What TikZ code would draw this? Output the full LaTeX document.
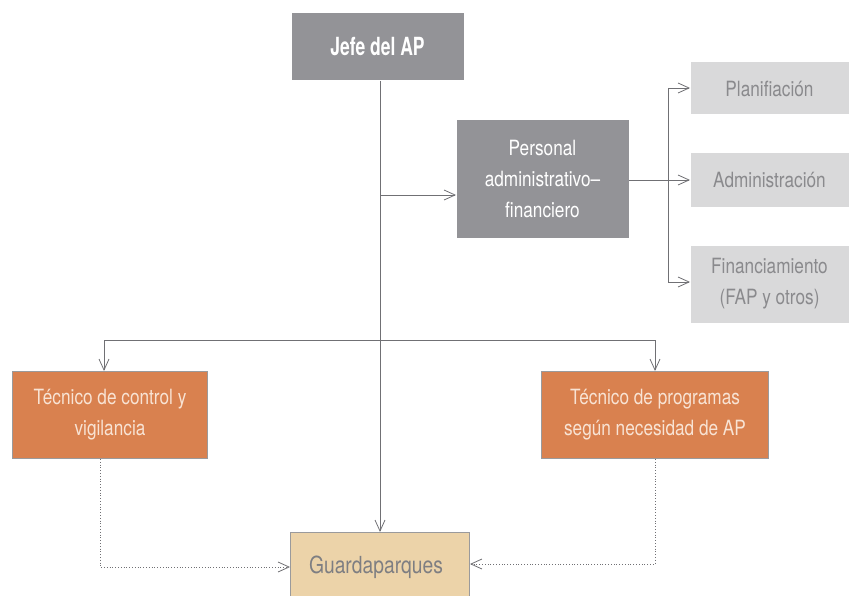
\documentclass[tikz,border=0pt]{standalone}
\usepackage{fontspec}
\setmainfont{TeX Gyre Heros}[FakeStretch=0.82]
\newfontfamily\boldcn{TeX Gyre Heros}[FakeStretch=0.70]
\usetikzlibrary{arrows.meta}
\definecolor{boxgray}{HTML}{939397}
\definecolor{lightbox}{HTML}{D9D9DA}
\definecolor{lighttext}{HTML}{8A8A8D}
\definecolor{orangebox}{HTML}{D9814F}
\definecolor{orangetext}{HTML}{F8E3D4}
\definecolor{sandbox}{HTML}{ECD3A9}
\definecolor{linegray}{HTML}{707074}
\definecolor{bordergray}{HTML}{9A9A9C}
\begin{document}
\begin{tikzpicture}[x=1pt,y=-1pt,
  box/.style={draw=bordergray,line width=1pt,inner sep=0pt,align=center,anchor=north west},
  txt/.style={font=\fontsize{21}{31}\selectfont},
  conn/.style={draw=linegray,line width=0.9pt,-{Straight Barb[length=11pt,width=10pt,line width=0.8pt]}},
  dotconn/.style={draw=linegray,line width=0.8pt,dotted,-{Straight Barb[length=11pt,width=10pt,line width=0.8pt]}},
  plain/.style={draw=linegray,line width=0.9pt}]
\useasboundingbox (0,0) rectangle (851,596);
% boxes
\node[box,fill=boxgray,draw=none,text=white,minimum width=172pt,minimum height=67pt,font=\boldcn\bfseries\fontsize{25}{28}\selectfont] (jefe) at (291,13) {Jefe del AP};
\node[box,fill=boxgray,draw=none,text=white,minimum width=172pt,minimum height=117pt,txt] (pers) at (456,120) {Personal\\administrativo–\\financiero};
\node[box,fill=lightbox,draw=none,text=lighttext,minimum width=158pt,minimum height=52pt,txt] (plan) at (690,62) {Planifiación};
\node[box,fill=lightbox,draw=none,text=lighttext,minimum width=158pt,minimum height=54pt,txt] (admin) at (690,153) {Administración};
\node[box,fill=lightbox,draw=none,text=lighttext,minimum width=158pt,minimum height=77pt,txt] (fin) at (690,245) {Financiamiento\\(FAP y otros)};
\node[box,fill=orangebox,text=orangetext,minimum width=195pt,minimum height=87pt,txt] (tcv) at (12,371) {Técnico de control y\\vigilancia};
\node[box,fill=orangebox,text=orangetext,minimum width=227pt,minimum height=87pt,txt] (tps) at (541,371) {Técnico de programas\\según necesidad de AP};
\node[box,fill=sandbox,minimum width=179pt,minimum height=70pt] (guar) at (290,532) {};
\node[text=linegray!90,font=\fontsize{23.5}{28}\selectfont] (guarlbl) at (376,567) {Guardaparques};
% coordinates
\coordinate (tr) at (380,195);
\coordinate (br) at (668,180);
\coordinate (lt) at (104,340);
\coordinate (rt) at (655,340);
\coordinate (ldot) at (100,567);
\coordinate (rdot) at (655,564);
% connectors
\draw[conn] (jefe.south -| tr) -- (guar.north -| tr);
\draw[conn] (tr) -- (tr -| pers.west);
\draw[plain] (br -| pers.east) -- (br);
\draw[plain] (668,88) -- (668,282);
\draw[conn] (668,88) -- (plan.west |- 0,88);
\draw[conn] (br) -- (admin.west |- br);
\draw[conn] (668,282) -- (fin.west |- 0,282);
\draw[plain] (lt) -- (rt);
\draw[conn] (lt) -- (lt |- tcv.north);
\draw[conn] (rt) -- (rt |- tps.north);
\draw[dotconn] (ldot |- tcv.south) -- (ldot) -- (ldot -| guar.west);
\draw[dotconn] (rdot |- tps.south) -- (rdot) -- (rdot -| guar.east);
\end{tikzpicture}
\end{document}
